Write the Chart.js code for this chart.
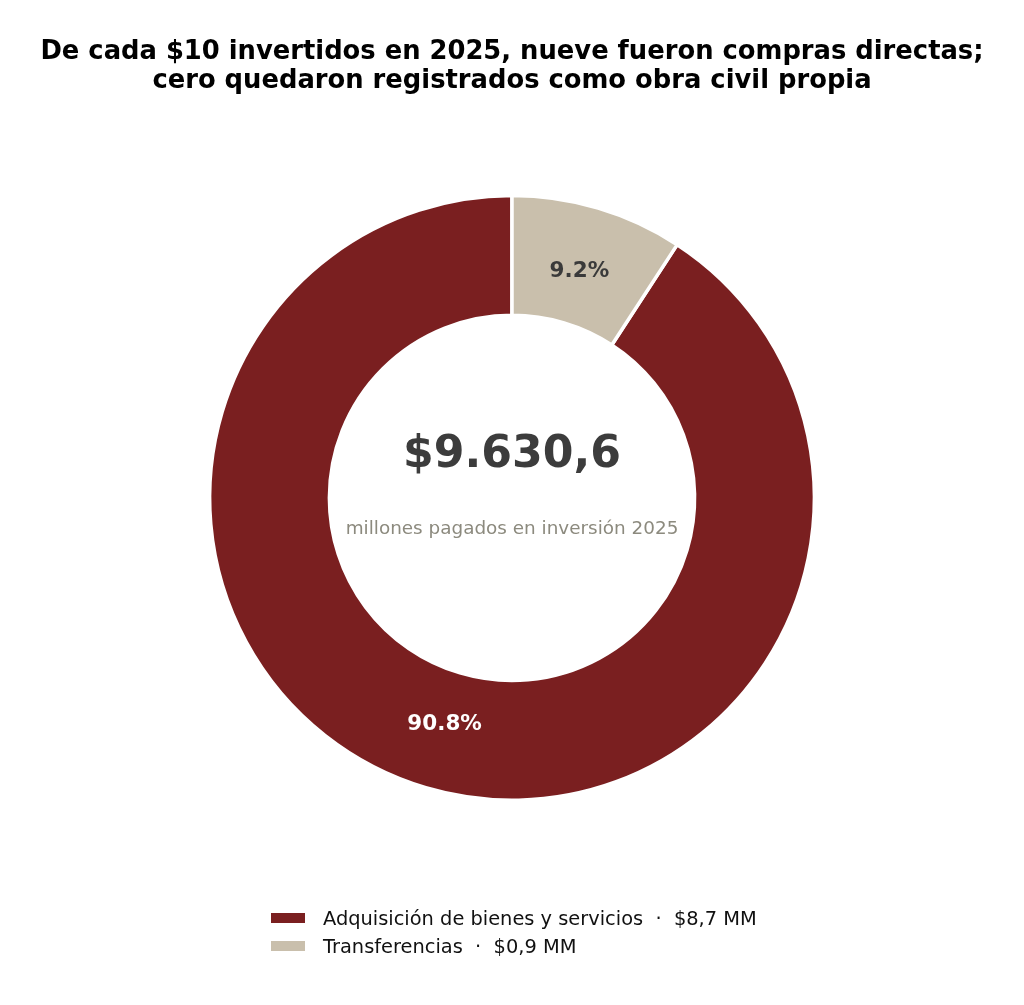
<!DOCTYPE html>
<html>
<head>
<meta charset="utf-8">
<script src="https://cdn.jsdelivr.net/npm/chart.js@4/dist/chart.umd.min.js"></script>
<style>
html,body{margin:0;padding:0;background:#fff;}
#wrap{width:1024px;height:1005px;position:relative;}
</style>
</head>
<body>
<div id="wrap"><canvas id="c" width="1024" height="1005"></canvas></div>
<script>
const categories = ['Adquisición de bienes y servicios', 'Transferencias'];
const shares = [90.8, 9.2];
const amountLabels = ['$8,7 MM', '$0,9 MM'];
const colors = ['#7A1F20', '#C9BFAC'];
const labelColors = ['#FFFFFF', '#3A3A3A'];
const totalLabel = '$9.630,6';
const totalSub = 'millones pagados en inversión 2025';
const titleLines = ['De cada $10 invertidos en 2025, nueve fueron compras directas;', 'cero quedaron registrados como obra civil propia'];

const FONT = "'DejaVu Sans', sans-serif";

const overlay = {
  id: 'overlay',
  afterDatasetsDraw(chart) {
    const ctx = chart.ctx;
    const meta = chart.getDatasetMeta(0);
    ctx.save();
    // segment labels
    meta.data.forEach((arc, i) => {
      const mid = (arc.startAngle + arc.endAngle) / 2;
      const r = arc.outerRadius * 0.782;
      ctx.font = "bold 21.5px " + FONT;
      ctx.fillStyle = labelColors[i];
      ctx.textAlign = 'center';
      ctx.textBaseline = 'middle';
      ctx.fillText(shares[i].toFixed(1) + '%', arc.x + r * Math.cos(mid), arc.y + r * Math.sin(mid));
    });
    // center text
    const a = meta.data[0];
    const cx = a.x, cy = a.y;
    ctx.fillStyle = '#3C3C3C';
    ctx.font = "bold 44.2px " + FONT;
    ctx.textAlign = 'center';
    ctx.textBaseline = 'middle';
    ctx.fillText(totalLabel, cx, cy - 42);
    ctx.fillStyle = '#8C8A7E';
    ctx.font = "18.4px " + FONT;
    ctx.fillText(totalSub, cx, cy + 31);
    // legend
    const lx = 271, ly = 918, lh = 28;
    categories.forEach((c, i) => {
      const y = ly + i * lh;
      ctx.fillStyle = colors[i];
      ctx.fillRect(lx, y - 5, 34, 10);
      ctx.fillStyle = '#111111';
      ctx.font = "19.4px " + FONT;
      ctx.textAlign = 'left';
      ctx.textBaseline = 'middle';
      ctx.fillText(c + '  ·  ' + amountLabels[i], lx + 52, y + 1.5);
    });
    ctx.restore();
  }
};

new Chart(document.getElementById('c'), {
  type: 'doughnut',
  data: {
    labels: categories,
    datasets: [{
      data: shares,
      backgroundColor: colors,
      borderColor: '#FFFFFF',
      borderWidth: 3.5,
      hoverOffset: 0
    }]
  },
  options: {
    responsive: false,
    animation: false,
    devicePixelRatio: 1,
    cutout: '60.4%',
    rotation: shares[1] / 100 * 360,
    layout: { padding: { top: 0, bottom: 203, left: 0, right: 0 } },
    plugins: {
      legend: { display: false },
      tooltip: { enabled: false },
      title: {
        display: true,
        text: titleLines,
        color: '#000000',
        font: { family: FONT, size: 25.8, weight: 'bold', lineHeight: 1.12 },
        padding: { top: 38, bottom: 98 }
      }
    }
  },
  plugins: [overlay]
});
</script>
</body>
</html>
